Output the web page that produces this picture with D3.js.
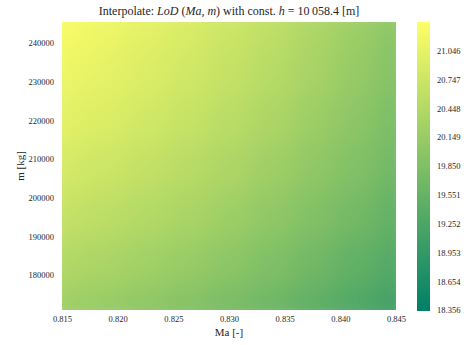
<!DOCTYPE html>
<html><head><meta charset="utf-8">
<script src="https://cdn.jsdelivr.net/npm/d3@7"></script>
<style>
body{margin:0;background:#fff;}
text{font-family:"Liberation Serif","DejaVu Serif",serif;fill:#262626;}
</style></head>
<body><svg id="c" width="468" height="345"></svg>
<script>
// grid centres (Mach number, mass)
const machValues = [0.815, 0.81875, 0.8225, 0.82625, 0.83, 0.83375, 0.8375, 0.84125, 0.845];
const massValues = [171000, 183400, 195800, 208200, 220600, 233000, 245400];
// LoD values, one row per mass (ascending), one column per Mach
const lodRows = [
  [20.20, 20.12, 20.02, 19.90, 19.78, 19.63, 19.47, 19.29, 19.10],
  [20.44, 20.36, 20.26, 20.14, 20.01, 19.86, 19.69, 19.51, 19.32],
  [20.66, 20.57, 20.47, 20.35, 20.21, 20.06, 19.89, 19.71, 19.51],
  [20.85, 20.76, 20.65, 20.53, 20.39, 20.23, 20.06, 19.88, 19.68],
  [21.01, 20.92, 20.80, 20.68, 20.54, 20.38, 20.20, 20.02, 19.81],
  [21.14, 21.05, 20.93, 20.80, 20.66, 20.50, 20.32, 20.13, 19.92],
  [21.25, 21.15, 21.03, 20.90, 20.75, 20.59, 20.41, 20.21, 20.00]
];
const xTicks = [0.815, 0.820, 0.825, 0.830, 0.835, 0.840, 0.845];
const yTicks = [180000, 190000, 200000, 210000, 220000, 230000, 240000];
const cbTicks = [18.356, 18.654, 18.953, 19.252, 19.551, 19.850, 20.149, 20.448, 20.747, 21.046];
const cbMin = 18.356, cbMax = 21.345;

const svg = d3.select("#c");
const L = 62, R = 396, T = 22, B = 310;
const x = d3.scaleLinear().domain([0.815, 0.845]).range([L, R]);
const y = d3.scaleLinear().domain([170950, 245430]).range([B, T]);
const summer = t => d3.rgb(255 * t, 255 * (0.5 + 0.5 * t), 0.4 * 255);
const color = d3.scaleLinear().domain([cbMin, cbMax]).range([0, 1]).clamp(true);

const defs = svg.append("defs");
defs.append("clipPath").attr("id", "clip").append("rect")
  .attr("x", L).attr("y", T).attr("width", R - L).attr("height", B - T);
const f = defs.append("filter").attr("id", "smooth")
  .attr("filterUnits", "userSpaceOnUse")
  .attr("x", L).attr("y", T).attr("width", R - L).attr("height", B - T);
f.append("feGaussianBlur").attr("stdDeviation", "13 15").attr("edgeMode", "duplicate");

const cells = [];
lodRows.forEach((row, j) => row.forEach((v, i) => cells.push({i, j, v})));
const dMa = machValues[1] - machValues[0];
const dM = massValues[1] - massValues[0];

const heat = svg.append("g").attr("clip-path", "url(#clip)").append("g").attr("filter", "url(#smooth)");
heat.selectAll("rect").data(cells).enter().append("rect")
  .attr("x", d => x(machValues[d.i] - dMa / 2))
  .attr("width", d => x(machValues[d.i] + dMa / 2) - x(machValues[d.i] - dMa / 2) + 0.5)
  .attr("y", d => y(massValues[d.j] + dM / 2))
  .attr("height", d => y(massValues[d.j] - dM / 2) - y(massValues[d.j] + dM / 2) + 0.5)
  .attr("fill", d => summer(color(d.v)))
  .attr("shape-rendering", "crispEdges");

// axes
const xa = svg.append("g").attr("transform", `translate(0,${B})`)
  .call(d3.axisBottom(x).tickValues(xTicks).tickFormat(d3.format(".3f")).tickSize(0).tickPadding(6));
const ya = svg.append("g").attr("transform", `translate(${L},0)`)
  .call(d3.axisLeft(y).tickValues(yTicks).tickFormat(d3.format("d")).tickSize(0).tickPadding(8));
[xa, ya].forEach(a => { a.select(".domain").remove(); a.selectAll("text").attr("font-size", 8.5).attr("fill", "#262626").style("font-family", "'Liberation Serif',serif"); });

svg.append("text").attr("x", (L + R) / 2).attr("y", 336).attr("text-anchor", "middle")
  .attr("font-size", 11).text("Ma [-]");
svg.append("text").attr("transform", `translate(24,${(T + B) / 2}) rotate(-90)`)
  .attr("text-anchor", "middle").attr("font-size", 11).text("m [kg]");

// title
const title = svg.append("text").attr("x", 229).attr("y", 15).attr("text-anchor", "middle").attr("font-size", 12);
title.append("tspan").text("Interpolate: ");
title.append("tspan").attr("font-style", "italic").text("LoD");
title.append("tspan").text(" (");
title.append("tspan").attr("font-style", "italic").text("Ma, m");
title.append("tspan").text(") with const. ");
title.append("tspan").attr("font-style", "italic").text("h");
title.append("tspan").text(" = 10\u2009058.4 [m]");

// colorbar
const cbx = 417, cbw = 13;
const cy = d3.scaleLinear().domain([cbMin, cbMax]).range([B, T]);
const steps = d3.range(0, 1, 1 / 300);
svg.append("g").selectAll("rect").data(steps).enter().append("rect")
  .attr("x", cbx).attr("width", cbw)
  .attr("y", t => cy(cbMin + (t + 1 / 300) * (cbMax - cbMin)))
  .attr("height", (B - T) / 300 + 0.6)
  .attr("fill", t => summer(t)).attr("shape-rendering", "crispEdges");
const ca = svg.append("g").attr("transform", `translate(${cbx + cbw},0)`)
  .call(d3.axisRight(cy).tickValues(cbTicks).tickFormat(d3.format(".3f")).tickSize(0).tickPadding(7));
ca.select(".domain").remove();
ca.selectAll("text").attr("font-size", 8.5).attr("fill", "#262626").style("font-family", "'Liberation Serif',serif");
</script></body></html>
